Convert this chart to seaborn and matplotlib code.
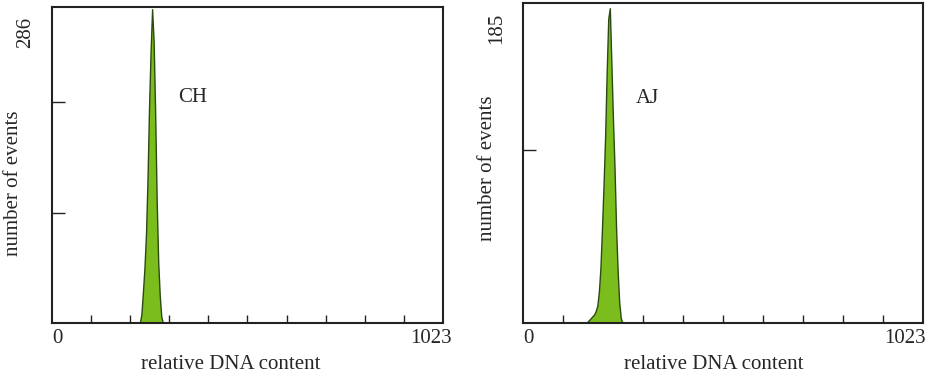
import numpy as np
import pandas as pd
import matplotlib
matplotlib.use("Agg")
import matplotlib.pyplot as plt
import matplotlib.transforms as mtransforms
import seaborn as sns

# channel bins (left edges, width 4) and counts
ch_bins = [228, 232, 236, 240, 244, 248, 252, 256, 260, 264, 268, 272, 276, 280, 284, 288]
ch_counts = [0, 8, 28, 50, 80, 130, 195, 245, 284, 255, 190, 110, 55, 25, 6, 0]

aj_bins = [160, 164, 168, 172, 176, 180, 184, 188, 192, 196, 200, 204, 208, 212, 216,
           220, 224, 228, 232, 236, 240, 244, 248, 252]
aj_counts = [0, 1, 2, 3, 4, 5, 7, 10, 18, 32, 55, 80, 108, 145, 176,
             182, 150, 118, 90, 55, 30, 12, 3, 0]

panels = [
    # name, bins, counts, y max, minor y ticks
    ("CH", ch_bins, ch_counts, 286, [100, 200]),
    ("AJ", aj_bins, aj_counts, 185, [100]),
]
label_pos = {"CH": (330, 204), "AJ": (289, 130)}

x_max = 1023
fill_col = "#7cbd1e"
edge_col = "#2b4a12"

sns.set_style("white")
plt.rcParams["font.family"] = ["Liberation Serif", "DejaVu Serif"]

fig = plt.figure(figsize=(9.28, 3.78), dpi=100)
ax_rects = [[0.056, 0.1455, 0.4213, 0.836], [0.5636, 0.1455, 0.431, 0.8466]]
xlab_x = [0.458, 0.478]
ylab_xy = [(-0.074, 0.443), (-0.065, 0.484)]
end_shift = [-0.12, -0.18]

for i, (name, bins, counts, ymax, yminor) in enumerate(panels):
    ax = fig.add_axes(ax_rects[i])
    df = pd.DataFrame({"channel": np.array(bins) + 2, "count": counts})
    sns.histplot(data=df, x="channel", weights="count", binwidth=4,
                 binrange=(bins[0], bins[-1] + 4), element="poly", fill=True,
                 color=fill_col, alpha=1, edgecolor=edge_col, linewidth=1.0, ax=ax)
    ax.set_xlim(0, x_max)
    ax.set_ylim(0, ymax)

    for sp in ax.spines.values():
        sp.set_visible(True)
        sp.set_color("#222222")
        sp.set_linewidth(1.5)

    # end labels on x, inner ticks every tenth
    ax.set_xticks([0, x_max])
    ax.set_xticklabels(["0", "1023"], fontsize=15)
    ax.set_xticks([x_max / 10 * k for k in range(1, 10)], minor=True)
    ax.tick_params(axis="x", which="both", bottom=True)
    ax.tick_params(axis="x", which="major", length=0, pad=4)
    ax.tick_params(axis="x", which="minor", direction="in", length=6,
                   width=1.0, color="#222222")
    xl = ax.get_xticklabels()
    xl[0].set_transform(xl[0].get_transform() +
                        mtransforms.ScaledTranslation(0.05, 0, fig.dpi_scale_trans))
    xl[1].set_transform(xl[1].get_transform() +
                        mtransforms.ScaledTranslation(end_shift[i], 0, fig.dpi_scale_trans))

    ax.set_yticks([ymax])
    ax.set_yticklabels([str(ymax)], fontsize=15, rotation=90, va="center")
    ax.set_yticks(yminor, minor=True)
    ax.tick_params(axis="y", which="both", left=True)
    ax.tick_params(axis="y", which="major", length=0, pad=12)
    ax.tick_params(axis="y", which="minor", direction="in", length=9,
                   width=1.0, color="#222222")
    yl = ax.get_yticklabels()[0]
    yl.set_transform(yl.get_transform() +
                     mtransforms.ScaledTranslation(0, -0.25, fig.dpi_scale_trans))

    ax.set_xlabel("relative DNA content", fontsize=15)
    ax.xaxis.set_label_coords(xlab_x[i], -0.10)
    ax.set_ylabel("number of events", fontsize=15)
    ax.yaxis.set_label_coords(*ylab_xy[i])

    lx, ly = label_pos[name]
    ax.text(lx, ly, name, fontsize=15, ha="left", va="center")

fig.savefig("out.png", dpi=100)
